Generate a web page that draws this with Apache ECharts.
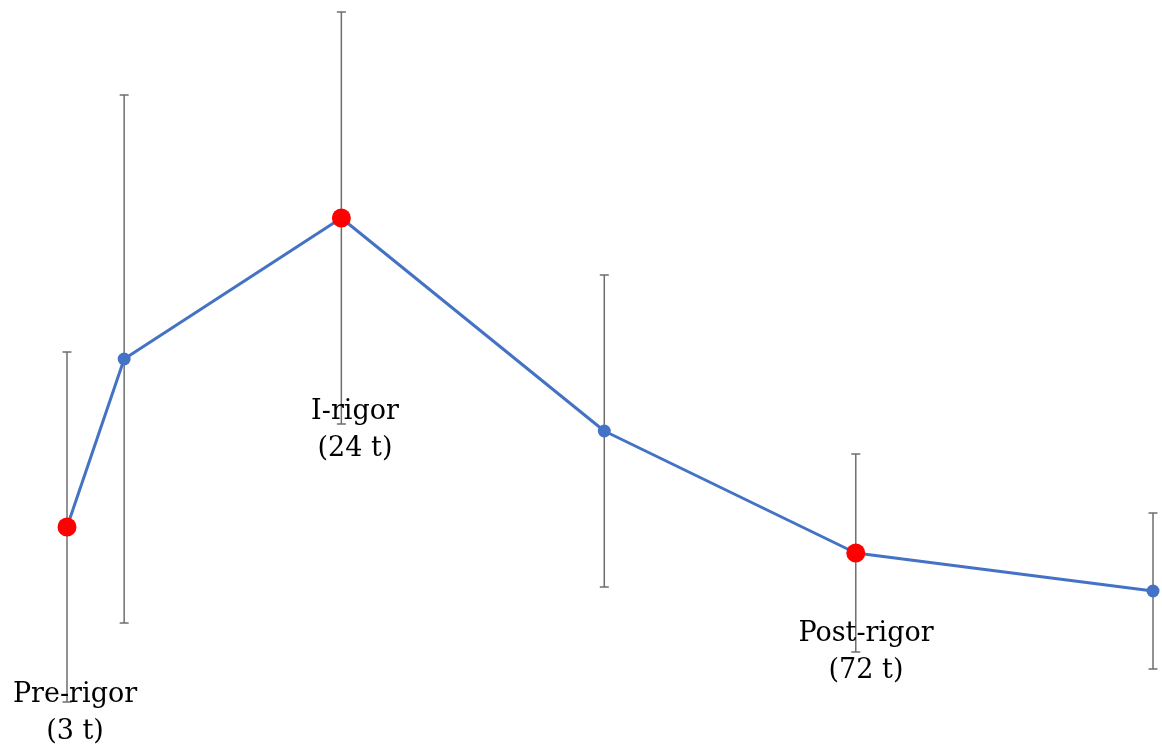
<!DOCTYPE html>
<html>
<head>
<meta charset="utf-8">
<script src="https://cdn.jsdelivr.net/npm/echarts@6/dist/echarts.min.js"></script>
<style>
  html, body { margin: 0; padding: 0; background: #fff; }
  #chart { width: 1162px; height: 752px; }
</style>
</head>
<body>
<div id="chart"></div>
<script>
var times = [3, 8, 27, 50, 72, 98];
var means = [22.5, 39.3, 53.4, 32.1, 19.9, 16.1];
var sds = [17.5, 26.4, 20.6, 15.6, 9.9, 7.8];
// which points are the rigor stages (red markers)
var stageIdx = [0, 2, 4];
var stageNames = ['Pre-rigor\n(3 t)', 'I-rigor\n(24 t)', 'Post-rigor\n(72 t)'];

var lineData = [], errData = [];
for (var i = 0; i < times.length; i++) {
    var isStage = stageIdx.indexOf(i) >= 0;
    lineData.push({
        value: [times[i], means[i]],
        symbolSize: isStage ? 19 : 13,
        itemStyle: { color: isStage ? '#ff0000' : '#4472c4', borderWidth: 0 }
    });
    errData.push([times[i], means[i] - sds[i], means[i] + sds[i]]);
}

function renderErr(params, api) {
    var lo = api.coord([api.value(0), api.value(1)]);
    var hi = api.coord([api.value(0), api.value(2)]);
    var half = 4.5;
    var style = { stroke: '#6e6e6e', lineWidth: 1.5 };
    return {
        type: 'group',
        children: [
            { type: 'line', shape: { x1: hi[0], y1: hi[1], x2: lo[0], y2: lo[1] }, style: style },
            { type: 'line', shape: { x1: hi[0] - half, y1: hi[1], x2: hi[0] + half, y2: hi[1] }, style: style },
            { type: 'line', shape: { x1: lo[0] - half, y1: lo[1], x2: lo[0] + half, y2: lo[1] }, style: style }
        ]
    };
}

var labelFont = { fontFamily: 'DejaVu Serif', fontSize: 27, fill: '#000', align: 'center', lineHeight: 37 };
var labelPos = [[75, 676], [355, 393], [866, 615]];
var graphics = [];
for (var k = 0; k < stageNames.length; k++) {
    graphics.push({
        type: 'text', x: labelPos[k][0], y: labelPos[k][1], z: 100,
        style: Object.assign({ text: stageNames[k] }, labelFont)
    });
}

var chart = echarts.init(document.getElementById('chart'));
chart.setOption({
    backgroundColor: '#fff',
    animation: false,
    grid: { left: 67, right: 9, top: 2, bottom: 0 },
    xAxis: { type: 'value', min: 3, max: 98, show: false },
    yAxis: { type: 'value', min: 0, max: 75, show: false },
    graphic: graphics,
    series: [
        {
            type: 'custom',
            renderItem: renderErr,
            data: errData,
            z: 1
        },
        {
            type: 'line',
            data: lineData,
            symbol: 'circle',
            lineStyle: { color: '#4472c4', width: 3 },
            z: 2
        }
    ]
});
</script>
</body>
</html>
